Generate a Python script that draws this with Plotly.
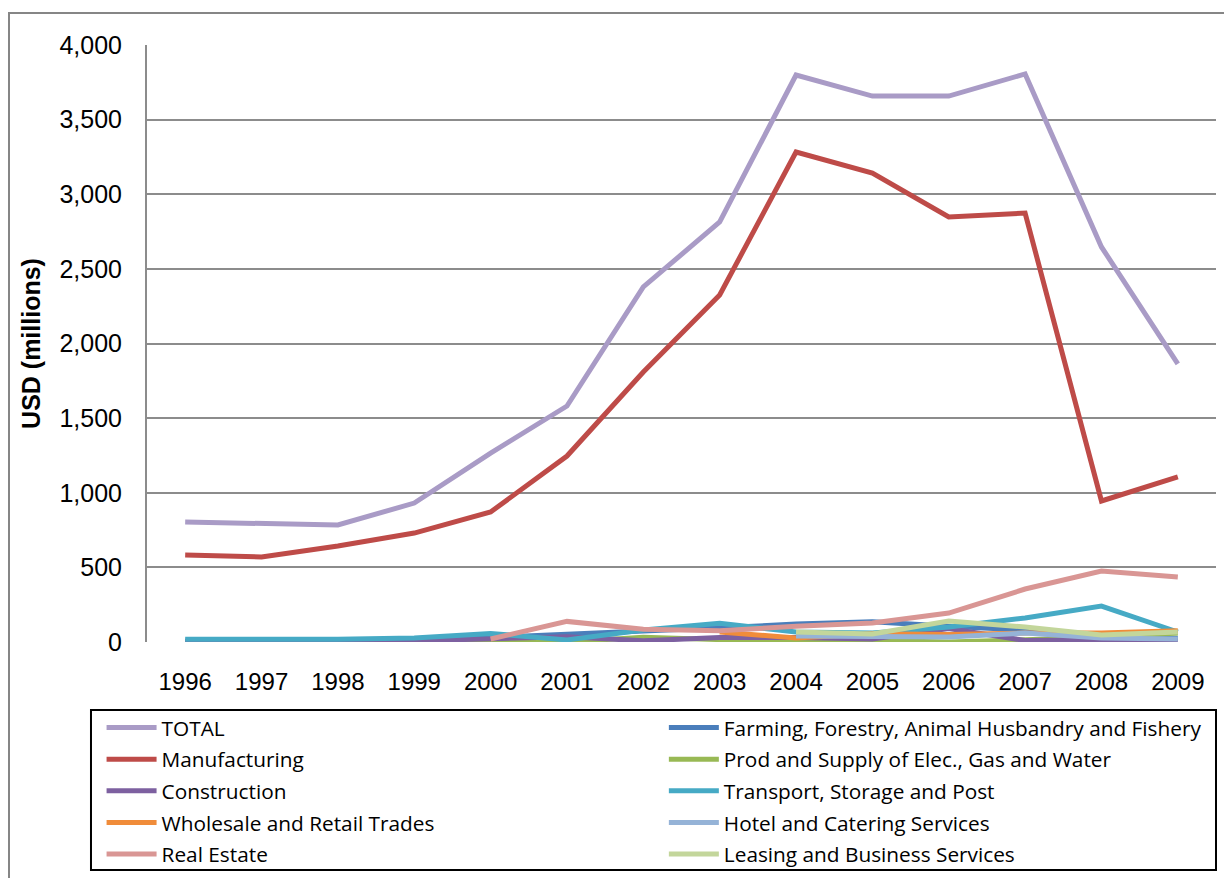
import plotly.graph_objects as go

years = [str(y) for y in range(1996, 2010)]

total = [804, 797, 784, 931, 1266, 1581, 2379, 2814, 3799, 3658, 3658, 3806, 2647, 1863]
manufacturing = [583, 570, 643, 730, 871, 1246, 1809, 2325, 3283, 3142, 2848, 2874, 945, 1106]
construction = [5, 2, 4, 8, 20, 35, 8, 30, 30, 20, 90, 10, 15, 2]
wholesale = [None, None, None, None, None, None, None, 67, 27, 55, 50, 60, 60, 75]
real_estate = [None, None, None, None, 20, 138, 85, 76, 105, 127, 194, 355, 476, 436]
farming = [5, 5, 8, 10, 30, 50, 70, 95, 120, 135, 105, 80, 30, 25]
elec_gas_water = [2, 2, 3, 5, 8, 0, 32, 20, 0, 10, 0, 15, 30, 60]
transport = [18, 14, 18, 27, 57, 14, 80, 125, 67, 60, 100, 161, 241, 67]
hotel = [None, None, None, None, None, None, None, None, 40, 33, 33, 60, 27, 20]
leasing = [None, None, None, None, None, None, None, None, 67, 54, 141, 100, 47, 67]

# (name, values, colour, legend column)
series = [
    ("TOTAL", total, "#A99BC6", "legend"),
    ("Manufacturing", manufacturing, "#BE4B48", "legend"),
    ("Construction", construction, "#7D60A0", "legend"),
    ("Wholesale and Retail Trades", wholesale, "#F08C3A", "legend"),
    ("Real Estate", real_estate, "#D99694", "legend"),
    ("Farming, Forestry, Animal Husbandry and Fishery", farming, "#4A7EBB", "legend2"),
    ("Prod and Supply of Elec., Gas and Water", elec_gas_water, "#98B954", "legend2"),
    ("Transport, Storage and Post", transport, "#46AAC5", "legend2"),
    ("Hotel and Catering Services", hotel, "#95B3D7", "legend2"),
    ("Leasing and Business Services", leasing, "#C3D69B", "legend2"),
]

# draw order: small series first, big ones on top
draw_order = [5, 6, 2, 7, 3, 8, 4, 9, 0, 1]

fig = go.Figure()
for i in draw_order:
    name, vals, col, leg = series[i]
    fig.add_trace(go.Scatter(
        x=years, y=vals, name=name, mode="lines",
        line=dict(color=col, width=5),
        legend=leg, legendgroup=name, legendrank=i,
    ))

legend_font = dict(family="Open Sans", size=20.8, color="#000000")
fig.update_layout(
    width=1224, height=870,
    margin=dict(l=139, r=16, t=37, b=236, autoexpand=False),
    paper_bgcolor="white", plot_bgcolor="white",
    font=dict(family="Liberation Sans", color="#000000"),
    showlegend=True,
    legend=dict(x=-0.0425, y=-0.1097, xanchor="left", yanchor="top",
                font=legend_font, tracegroupgap=1.6, itemwidth=50,
                bgcolor="rgba(0,0,0,0)"),
    legend2=dict(x=0.4835, y=-0.1097, xanchor="left", yanchor="top",
                 font=legend_font, tracegroupgap=1.6, itemwidth=50,
                 bgcolor="rgba(0,0,0,0)"),
    xaxis=dict(
        type="category", range=[-0.5, 13.5], showgrid=False, zeroline=False,
        showline=False, tickfont=dict(size=24),
        ticks="", ticklabelstandoff=23,
    ),
    yaxis=dict(
        range=[0, 4000], dtick=500, tickformat=",",
        showgrid=True, gridcolor="#8C8C8C", gridwidth=2,
        zeroline=False, showline=True, linecolor="#8C8C8C", linewidth=2,
        tickfont=dict(size=25), ticks="", ticklabelstandoff=18,
        title=dict(text="<b>USD (millions)</b>", font=dict(size=25), standoff=12),
    ),
    shapes=[
        # outer chart border
        dict(type="rect", xref="paper", yref="paper",
             x0=-0.1291, x1=1.1, y0=-0.6, y1=1.0536,
             line=dict(color="#868686", width=2), layer="below"),
        # legend box
        dict(type="rect", xref="paper", yref="paper",
             x0=-0.0524, x1=1.0, y0=-0.3819, y1=-0.1139,
             line=dict(color="#000000", width=2)),
    ],
)

fig.write_html("out.html")
